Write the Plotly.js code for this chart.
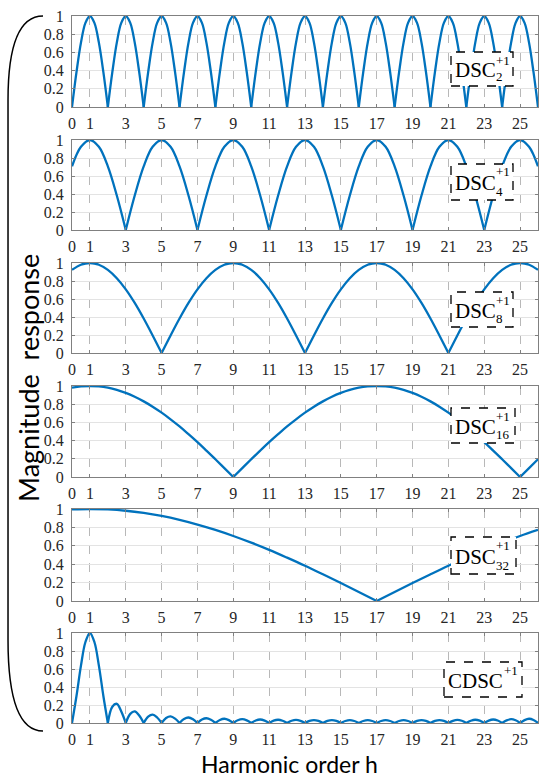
<!DOCTYPE html>
<html>
<head>
<meta charset="utf-8">
<script src="https://cdn.plot.ly/plotly-3.0.1.min.js"></script>
<style>
html,body{margin:0;padding:0;background:#fff;}
#chart{width:550px;height:777px;}
</style>
</head>
<body>
<div id="chart"></div>
<script>
// ---- Data ----
// sample spacing (harmonic order step) of each series, starting at h = 0
const stepDSC2 = 0.25, stepDSC4 = 0.5, stepDSC8 = 0.5, stepDSC16 = 0.5, stepDSC32 = 1, stepCDSC = 0.25;

const dsc2 = [
0,0.383,0.707,0.924,1,0.924,0.707,0.383,
0,0.383,0.707,0.924,1,0.924,0.707,0.383,
0,0.383,0.707,0.924,1,0.924,0.707,0.383,
0,0.383,0.707,0.924,1,0.924,0.707,0.383,
0,0.383,0.707,0.924,1,0.924,0.707,0.383,
0,0.383,0.707,0.924,1,0.924,0.707,0.383,
0,0.383,0.707,0.924,1,0.924,0.707,0.383,
0,0.383,0.707,0.924,1,0.924,0.707,0.383,
0,0.383,0.707,0.924,1,0.924,0.707,0.383,
0,0.383,0.707,0.924,1,0.924,0.707,0.383,
0,0.383,0.707,0.924,1,0.924,0.707,0.383,
0,0.383,0.707,0.924,1,0.924,0.707,0.383,
0,0.383,0.707,0.924,1,0.924,0.707,0.383,
0];

const dsc4 = [0.707,0.924,
1,0.924,0.707,0.383,0,0.383,0.707,0.924,
1,0.924,0.707,0.383,0,0.383,0.707,0.924,
1,0.924,0.707,0.383,0,0.383,0.707,0.924,
1,0.924,0.707,0.383,0,0.383,0.707,0.924,
1,0.924,0.707,0.383,0,0.383,0.707,0.924,
1,0.924,0.707,0.383,0,0.383,0.707,0.924,
1,0.924,0.707];

const dsc8 = [0.924,0.981,
1,0.981,0.924,0.831,0.707,0.556,0.383,0.195,0,0.195,0.383,0.556,0.707,0.831,0.924,0.981,
1,0.981,0.924,0.831,0.707,0.556,0.383,0.195,0,0.195,0.383,0.556,0.707,0.831,0.924,0.981,
1,0.981,0.924,0.831,0.707,0.556,0.383,0.195,0,0.195,0.383,0.556,0.707,0.831,0.924,0.981,
1,0.981,0.924];

const dsc16 = [0.981,0.995,
1,0.995,0.981,0.957,0.924,0.882,0.831,0.773,0.707,0.634,0.556,0.471,0.383,0.290,0.195,0.098,
0,0.098,0.195,0.290,0.383,0.471,0.556,0.634,0.707,0.773,0.831,0.882,0.924,0.957,0.981,0.995,
1,0.995,0.981,0.957,0.924,0.882,0.831,0.773,0.707,0.634,0.556,0.471,0.383,0.290,0.195,0.098,
0,0.098,0.195];

const dsc32 = [0.995,
1,0.995,0.981,0.957,0.924,0.882,0.831,0.773,0.707,0.634,0.556,0.471,0.383,0.290,0.195,0.098,
0,0.098,0.195,0.290,0.383,0.471,0.556,0.634,0.707,0.773];

const cdsc = [
0,0.300,0.637,0.900,
1,0.900,0.637,0.300,
0,0.181,0.213,0.129,
0,0.101,0.129,0.083,
0,0.070,0.093,0.061,
0,0.055,0.073,0.049,
0,0.045,0.061,0.041,
0,0.038,0.053,0.036,
0,0.034,0.047,0.032,
0,0.030,0.042,0.029,
0,0.028,0.039,0.027,
0,0.026,0.036,0.025,
0,0.025,0.035,0.024,
0,0.024,0.033,0.023,
0,0.023,0.032,0.023,
0,0.022,0.032,0.022,
0,0.022,0.031,0.022,
0,0.022,0.031,0.022,
0,0.022,0.032,0.022,
0,0.023,0.032,0.023,
0,0.023,0.033,0.024,
0,0.024,0.035,0.025,
0,0.025,0.036,0.026,
0,0.027,0.039,0.028,
0,0.029,0.042,0.030,
0,0.032,0.047,0.034,
0];

const seriesData = [dsc2, dsc4, dsc8, dsc16, dsc32, cdsc];
const seriesStep = [stepDSC2, stepDSC4, stepDSC8, stepDSC16, stepDSC32, stepCDSC];
const seriesSub = ['2', '4', '8', '16', '32', ''];
const seriesName = ['DSC', 'DSC', 'DSC', 'DSC', 'DSC', 'CDSC'];
const supText = '+1';

const xTickVals = [0,1,3,5,7,9,11,13,15,17,19,21,23,25];
const xTickText = ['0','1','3','5','7','9','11','13','15','17','19','21','23','25'];
const yTickVals = [0,0.2,0.4,0.6,0.8,1];
const yTickText = ['0','0.2','0.4','0.6','0.8','1'];

const xTitle = 'Harmonic order h';
const yTitle = 'Magnitude\u00a0 response';

// ---- Layout geometry (pixels) ----
const W = 550, Hh = 777;
const ML = 72, MR = 12, MT = 16, MB = 54;
const PW = W - ML - MR, PH = Hh - MT - MB;
const px2x = p => (p - ML) / PW;
const px2y = p => (Hh - MB - p) / PH;

const panelTop = [16, 140, 263, 386, 509, 633];
const panelBot = [107, 230, 353, 477, 601, 723];
const boxes = [
  [451,513,52,86],
  [451,513,164,200],
  [451,513,292,327],
  [451,515,408,443],
  [451,516,537,574],
  [444,522,662,697]
];

const blue = '#0072BD';
const serif = 'Liberation Serif';
const sans = 'Lato';
const tickFont = {family:serif, size:16, color:'#262626'};

const data = [];
const layout = {
  width: W, height: Hh,
  font: {family: serif, size: 16, color:'#262626'},
  margin: {l:ML, r:MR, t:MT, b:MB, pad:0},
  paper_bgcolor:'#fff', plot_bgcolor:'#fff',
  showlegend:false,
  shapes: [], annotations: []
};

for (let i = 0; i < 6; i++) {
  const n = i === 0 ? '' : String(i + 1);
  const vals = seriesData[i], dx = seriesStep[i];
  // split the series into lobes at its zeros so each lobe is smoothed on its own
  const cuts = [0];
  for (let k = 1; k < vals.length - 1; k++) if (vals[k] === 0) cuts.push(k);
  cuts.push(vals.length - 1);
  for (let c = 0; c < cuts.length - 1; c++) {
    const a = cuts[c], b = cuts[c + 1];
    data.push({
      type:'scatter', mode:'lines',
      y: vals.slice(a, b + 1), x0: a * dx, dx: dx,
      xaxis: 'x' + n, yaxis: 'y' + n,
      line: {color: blue, width: 2.3, shape:'spline', smoothing:1},
      hoverinfo: 'skip'
    });
  }
  layout['xaxis' + n] = {
    domain:[0,1], anchor:'y' + n, range:[0,26],
    tickmode:'array', tickvals:xTickVals, ticktext:xTickText,
    tickfont: tickFont, ticks:'inside', ticklen:3, tickcolor:'#808080',
    ticklabelstandoff: 2,
    showline:true, linecolor:'#808080', linewidth:1, mirror:'ticks',
    showgrid:true, gridcolor:'#b8b8b8', griddash:'dash', gridwidth:1,
    zeroline:false, fixedrange:true
  };
  layout['yaxis' + n] = {
    domain:[px2y(panelBot[i]), px2y(panelTop[i])], anchor:'x' + n, range:[0,1],
    tickmode:'array', tickvals:yTickVals, ticktext:yTickText,
    tickfont: tickFont, ticks:'inside', ticklen:3, tickcolor:'#808080',
    ticklabelstandoff: 4,
    showline:true, linecolor:'#808080', linewidth:1, mirror:'ticks',
    showgrid:true, gridcolor:'#e3e3e3', gridwidth:1,
    zeroline:false, fixedrange:true
  };

  // dashed label box
  const bx = boxes[i];
  layout.shapes.push({
    type:'rect', xref:'paper', yref:'paper',
    x0:px2x(bx[0]), x1:px2x(bx[1]), y0:px2y(bx[3]), y1:px2y(bx[2]),
    line:{color:'#000', width:1.3, dash:'dash'}, fillcolor:'#fff', layer:'above'
  });
  const mainW = seriesName[i] === 'CDSC' ? 56 : 41;
  const cy = (bx[2] + bx[3]) / 2;
  layout.annotations.push({
    xref:'paper', yref:'paper', x:px2x(bx[0] + 2), y:px2y(cy + 1),
    xanchor:'left', yanchor:'middle', showarrow:false,
    text: seriesName[i], font:{family:serif, size:21, color:'#000'}
  });
  layout.annotations.push({
    xref:'paper', yref:'paper', x:px2x(bx[0] + 2 + mainW), y:px2y(bx[2] + 8),
    xanchor:'left', yanchor:'middle', showarrow:false,
    text: supText, font:{family:serif, size:13, color:'#000'}
  });
  if (seriesSub[i]) {
    layout.annotations.push({
      xref:'paper', yref:'paper', x:px2x(bx[0] + 2 + mainW), y:px2y(bx[3] - 9),
      xanchor:'left', yanchor:'middle', showarrow:false,
      text: seriesSub[i], font:{family:serif, size:13, color:'#000'}
    });
  }
}

// left brace
const P = (x, y) => px2x(x).toFixed(4) + ',' + px2y(y).toFixed(4);
layout.shapes.push({
  type:'path', xref:'paper', yref:'paper',
  path: 'M' + P(43,16) + ' Q' + P(8,16) + ' ' + P(8,100) + ' L' + P(8,640) + ' Q' + P(8,731) + ' ' + P(43,731),
  line:{color:'#000', width:1.5}
});

// axis titles
layout.annotations.push({
  xref:'paper', yref:'paper', x:px2x(289), y:px2y(778),
  xanchor:'center', yanchor:'bottom', showarrow:false, borderpad:0, borderwidth:0,
  text: xTitle, font:{family:sans, size:23, color:'#000'}
});
layout.annotations.push({
  xref:'paper', yref:'paper', x:px2x(28), y:px2y(378),
  xanchor:'center', yanchor:'middle', showarrow:false, textangle:-90,
  text: yTitle, font:{family:sans, size:27, color:'#000'}
});

Plotly.newPlot('chart', data, layout, {staticPlot:true, displayModeBar:false});
</script>
</body>
</html>
